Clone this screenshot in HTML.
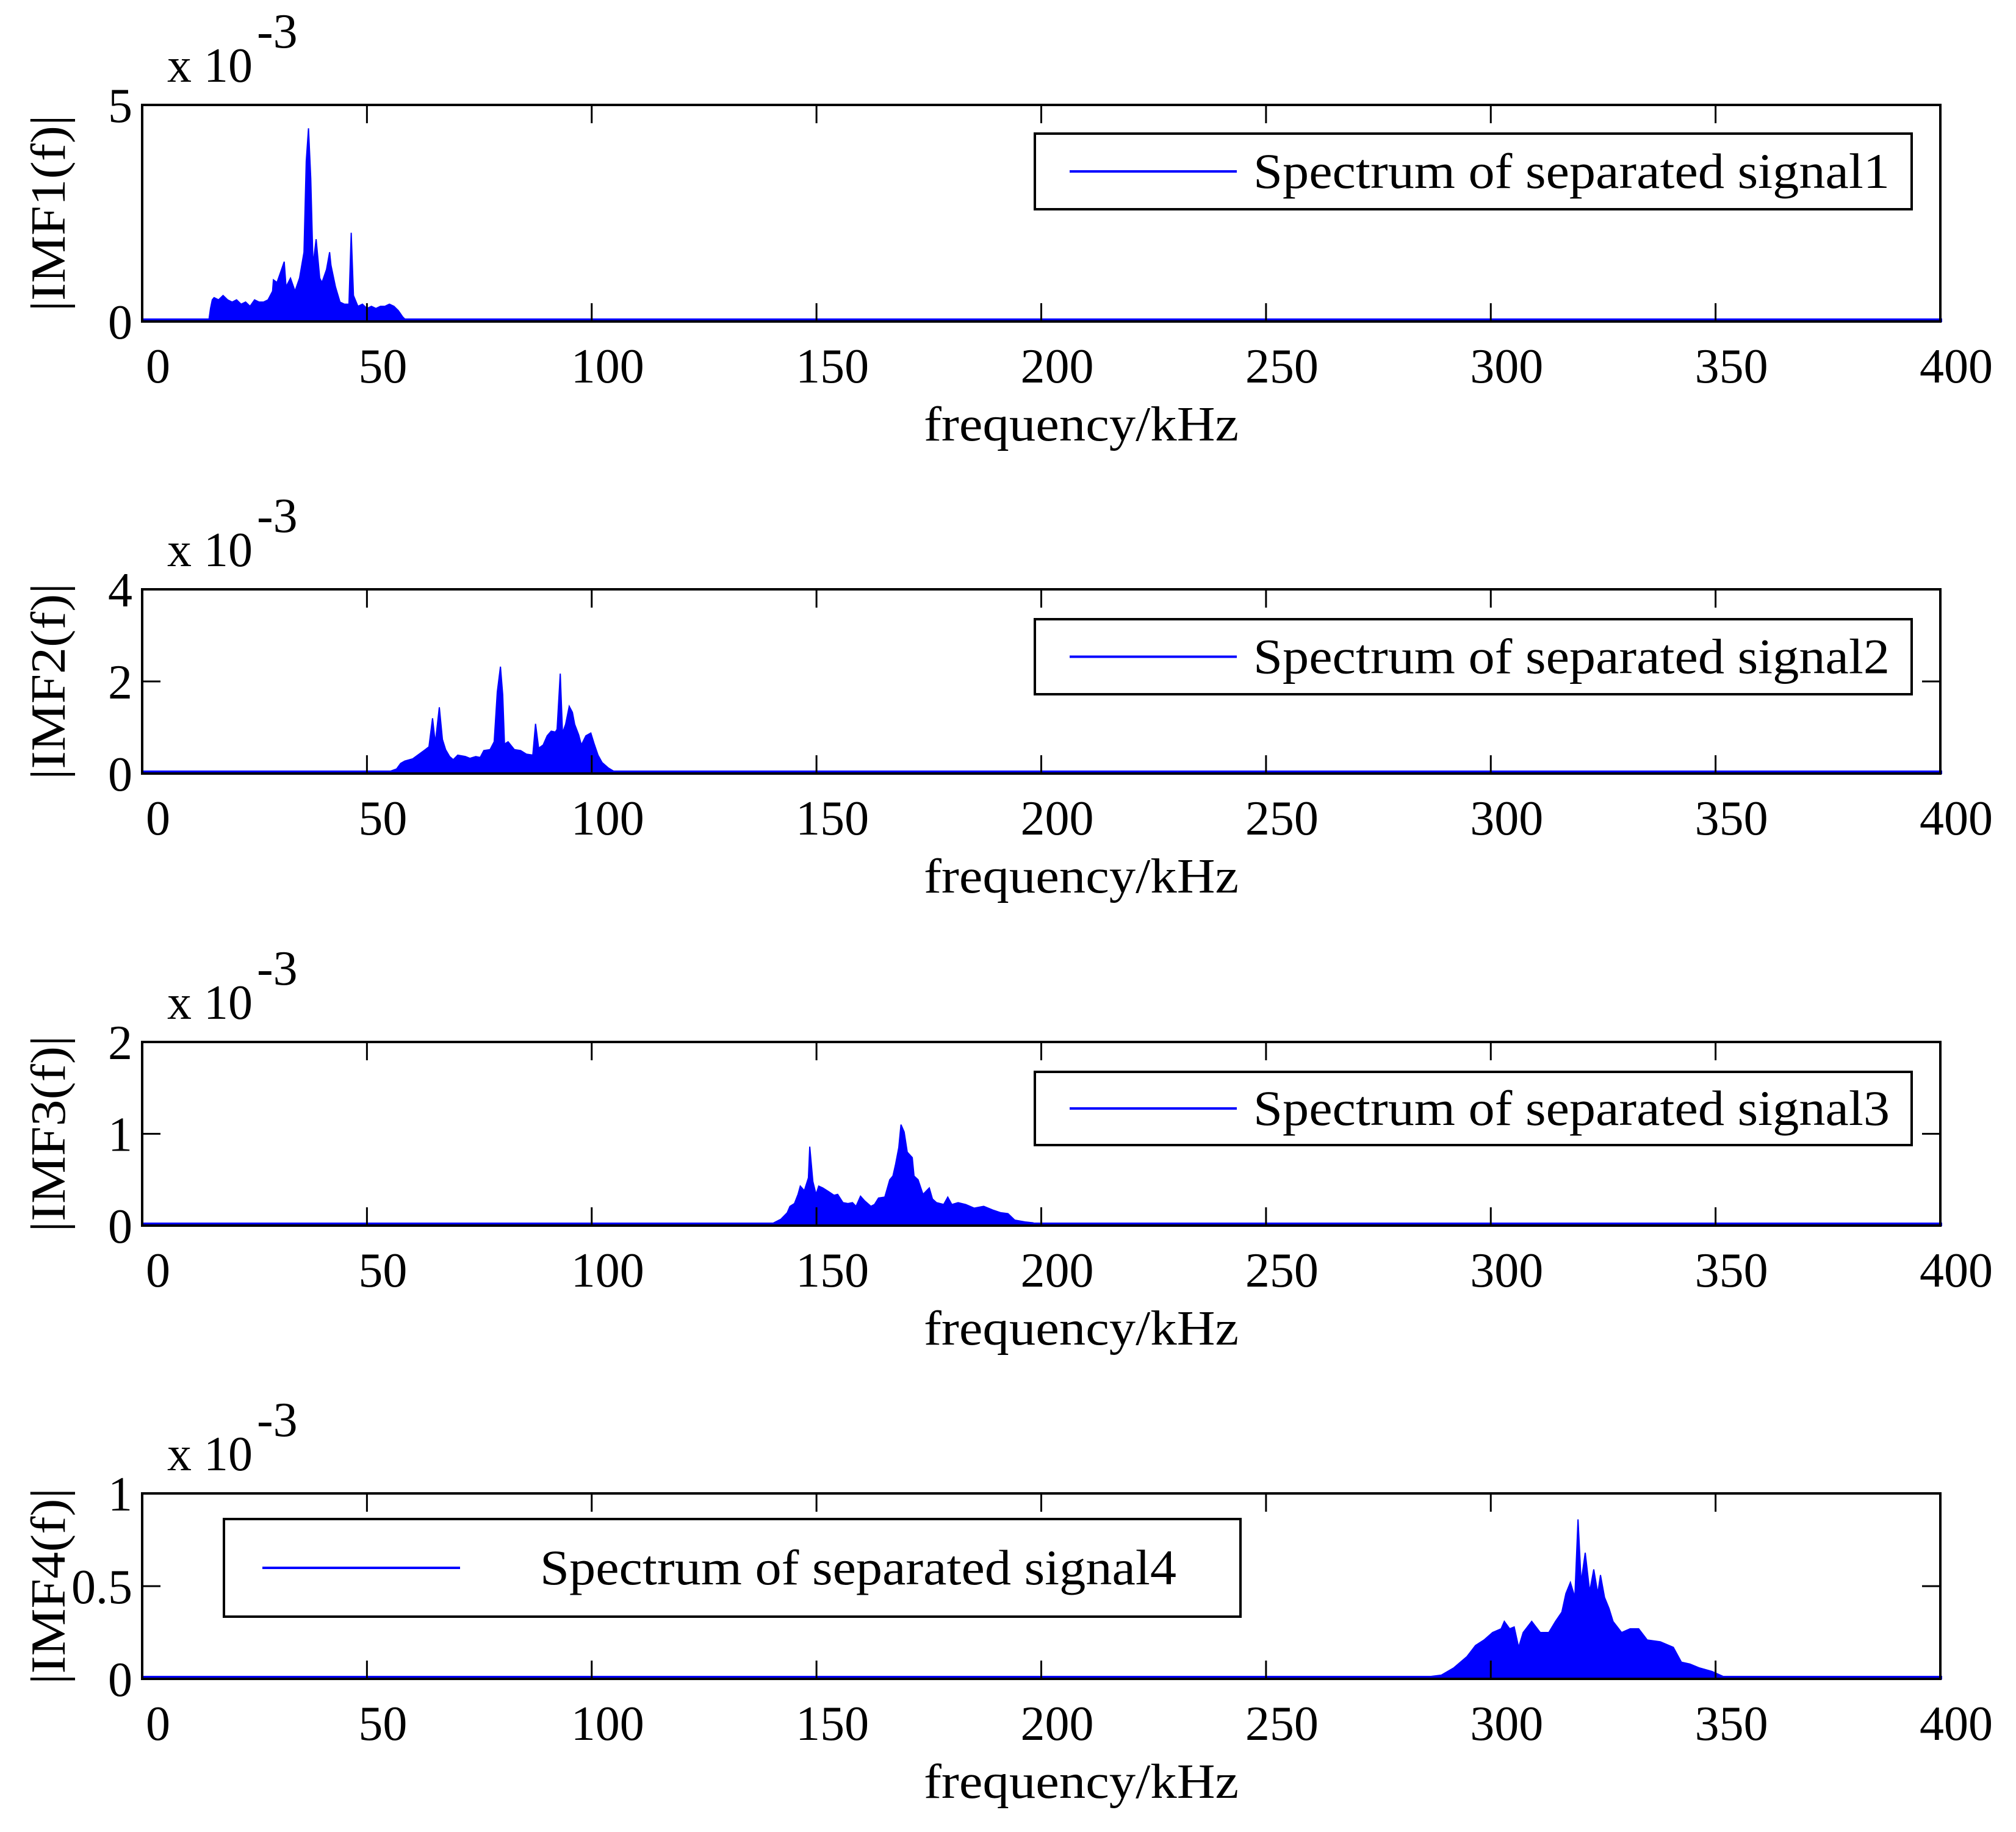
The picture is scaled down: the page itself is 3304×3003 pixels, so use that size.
<!DOCTYPE html>
<html><head><meta charset="utf-8"><style>
html,body{margin:0;padding:0;background:#fff;}
svg{display:block;}
text{font-family:"Liberation Serif",serif;fill:#000;}
</style></head>
<body>
<svg id="fig" width="3304" height="3003" viewBox="0 0 3304 3003" xmlns="http://www.w3.org/2000/svg"></svg>
<script>
const xTicks = [0,50,100,150,200,250,300,350,400];
const xTickLabels = ["0","50","100","150","200","250","300","350","400"];

const freq1 = [14.8,15.2,15.6,16,17,18,19,20,21,22,23,24,25,26,27,28,29,29.2,30,31,31.6,32,33,34,35,36,36.5,37,37.5,38,38.7,39.5,40,41,41.7,42,43,44,45,46,46.5,47,48,49,50,51,52,53,54,55,56,57,58,59];
const vals1 = [0,0.3,0.5,0.55,0.5,0.6,0.5,0.45,0.5,0.4,0.45,0.35,0.5,0.45,0.45,0.5,0.7,0.96,0.9,1.2,1.38,0.8,1.0,0.7,1.0,1.6,3.7,4.46,3.3,1.3,1.9,1.0,0.9,1.2,1.6,1.3,0.8,0.45,0.4,0.4,2.05,0.6,0.35,0.4,0.3,0.35,0.3,0.35,0.35,0.4,0.35,0.25,0.1,0];

const freq2 = [53,55.2,56.6,57.5,58.4,60.2,61.6,63,63.8,64.6,65.2,66.1,66.8,67.5,68.4,69.2,70.2,71.9,72.9,74.2,75.2,76,77.4,78.3,79,79.7,80.2,80.6,81.4,82.8,84.2,85.5,86.9,87.5,88.2,89.2,90.1,91,91.9,92.3,93,93.5,94.2,95,95.7,96.2,97.1,97.7,98.7,99.8,100.5,101.4,102.3,103.7,104.9,105.9];
const vals2 = [0,0.05,0.1,0.22,0.27,0.32,0.42,0.52,0.58,1.2,0.66,1.44,0.74,0.52,0.37,0.3,0.4,0.37,0.33,0.37,0.35,0.5,0.52,0.69,1.77,2.32,1.71,0.64,0.69,0.52,0.5,0.42,0.4,1.08,0.55,0.62,0.82,0.92,0.9,0.96,2.17,0.88,1.07,1.46,1.33,1.07,0.84,0.62,0.82,0.88,0.66,0.4,0.24,0.12,0.05,0];

const freq3 = [139,140.5,142.1,143.5,144.1,145.1,145.9,146.4,147.3,148.2,148.5,149.2,149.9,150.5,151.4,152.7,153.9,154.7,155.9,157,158,158.8,159.8,160.7,162.1,162.9,163.8,165.2,166.3,167,167.6,168.3,168.8,169.5,170.2,171.3,171.7,172.6,173.7,175.1,175.8,176.7,178.3,179.2,180.1,181.5,183.2,185.1,187.2,189.2,191,192.6,194.1,196.4,198.2,198.7];
const vals3 = [0,0.03,0.07,0.14,0.21,0.24,0.34,0.43,0.38,0.52,0.86,0.48,0.34,0.43,0.41,0.37,0.33,0.34,0.25,0.24,0.25,0.21,0.32,0.27,0.21,0.23,0.3,0.31,0.5,0.54,0.67,0.85,1.1,1.02,0.8,0.74,0.54,0.5,0.34,0.41,0.29,0.25,0.23,0.31,0.23,0.25,0.23,0.19,0.21,0.17,0.14,0.13,0.06,0.04,0.03,0];

const freq4 = [284,285.6,289,291.8,294.7,296.6,298.5,300.4,302.3,303,304.2,305.2,306.2,307.2,309.1,311,312.9,314.4,315.8,316.7,317.7,318.7,319.4,320.1,321,322,322.9,323.8,324.4,325.3,326.3,327.2,329.1,331,332.9,334.8,337.7,340.6,342.4,344.3,346.3,349.2,352,354.9];
const vals4 = [0,0.01,0.02,0.06,0.12,0.18,0.21,0.25,0.27,0.31,0.27,0.28,0.17,0.25,0.31,0.25,0.25,0.31,0.36,0.46,0.52,0.44,0.86,0.52,0.68,0.47,0.59,0.46,0.56,0.44,0.38,0.31,0.25,0.27,0.27,0.21,0.2,0.17,0.09,0.08,0.06,0.04,0.01,0];

const yTicks1 = [0,5], yTicks2 = [0,2,4], yTicks3 = [0,1,2], yTicks4 = [0,0.5,1];
const yTickLabels4 = ["0","0.5","1"];

const panels = [
  {id:1, top:172, bottom:527, ymax:5, yt:yTicks1, f:freq1, v:vals1, legend:{x:1696,y:219,w:1437,h:124,lx1:1753,lx2:2027,tx:2054,tw:1043}},
  {id:2, top:966, bottom:1268, ymax:4, yt:yTicks2, f:freq2, v:vals2, legend:{x:1696,y:1015,w:1437,h:123,lx1:1753,lx2:2027,tx:2054,tw:1043}},
  {id:3, top:1708, bottom:2009, ymax:2, yt:yTicks3, f:freq3, v:vals3, legend:{x:1696,y:1757,w:1437,h:120,lx1:1753,lx2:2027,tx:2054,tw:1043}},
  {id:4, top:2448, bottom:2752, ymax:1, yt:yTicks4, f:freq4, v:vals4, legend:{x:367,y:2490,w:1666,h:160,lx1:430,lx2:754,tx:885,tw:1043}}
];
const L = 233, R = 3180;
const NS = "http://www.w3.org/2000/svg";
const svg = document.getElementById('fig');
function mk(tag, attrs, parent){ const e=document.createElementNS(NS,tag); for(const k in attrs) e.setAttribute(k,attrs[k]); (parent||svg).appendChild(e); return e; }
function xScale(f){ return L + (f/400)*(R-L); }

panels.forEach(p=>{
  const g = mk('g',{});
  
  
  const yScale = v => p.bottom - (v/p.ymax)*(p.bottom-p.top);
  let d = 'M'+xScale(p.f[0])+','+yScale(0);
  for(let i=0;i<p.f.length;i++){ d += ' L'+xScale(p.f[i]).toFixed(1)+','+yScale(p.v[i]).toFixed(1); }
  d += ' L'+xScale(p.f[p.f.length-1])+','+yScale(0)+' Z';
  const area = mk('path',{d:d, fill:'#0000ff', stroke:'#0000ff', 'stroke-width':2, 'stroke-linejoin':'miter'}, g);
  
  
  const base = mk('line',{x1:L,x2:R+3,y1:yScale(0)-2,y2:yScale(0)-2,stroke:'#0000ff','stroke-width':6}, g);
  
  
  const box = mk('rect',{x:L,y:p.top,width:R-L,height:p.bottom-p.top,fill:'none',stroke:'#000','stroke-width':4}, g);
  
  
  xTicks.forEach((t,i)=>{
    const x = xScale(t);
    if(i>0 && i<xTicks.length-1){
      mk('line',{x1:x,x2:x,y1:p.bottom,y2:p.bottom-30,stroke:'#000','stroke-width':3}, g);
      mk('line',{x1:x,x2:x,y1:p.top,y2:p.top+30,stroke:'#000','stroke-width':3}, g);
    }
    const tl = mk('text',{x:x+26,y:p.bottom+100,'font-size':80,'text-anchor':'middle'}, g);
    
    
    tl.textContent = xTickLabels[i];
  });
  p.yt.forEach((t,i)=>{
    const y = yScale(t);
    if(i>0 && i<p.yt.length-1){
      mk('line',{x1:L,x2:L+30,y1:y,y2:y,stroke:'#000','stroke-width':3}, g);
      mk('line',{x1:R,x2:R-30,y1:y,y2:y,stroke:'#000','stroke-width':3}, g);
    }
    const yl = mk('text',{x:L-16,y:y+28,'font-size':80,'text-anchor':'end'}, g);
    
    
    yl.textContent = p.id===4 ? yTickLabels4[i] : String(t);
  });
  const ex = mk('text',{x:274,y:p.top-38,'font-size':80}, g);
  
  
  ex.textContent = 'x 10';
  const sup = mk('text',{x:421,y:p.top-94,'font-size':80}, g);
  
  
  sup.textContent = '-3';
  const cy = (p.top+p.bottom)/2;
  const ylab = mk('text',{x:0,y:0,'font-size':80,'text-anchor':'middle',transform:'translate(106,'+cy+') rotate(-90)',textLength:322,lengthAdjust:'spacingAndGlyphs'}, g);
  
  
  ylab.textContent = '|IMF'+p.id+'(f)|';
  const xlab = mk('text',{x:1772,y:p.bottom+195,'font-size':80,'text-anchor':'middle',textLength:516,lengthAdjust:'spacingAndGlyphs'}, g);
  
  
  xlab.textContent = 'frequency/kHz';
  const lg = p.legend;
  const lgG = mk('g',{}, g);
  
  
  mk('rect',{x:lg.x,y:lg.y,width:lg.w,height:lg.h,fill:'#fff',stroke:'#000','stroke-width':4}, lgG);
  const ly = lg.y + lg.h/2;
  const ll = mk('line',{x1:lg.lx1,x2:lg.lx2,y1:ly,y2:ly,stroke:'#0000ff','stroke-width':4}, lgG);
  
  
  const lt = mk('text',{x:lg.tx,y:ly+27,'font-size':82,textLength:lg.tw,lengthAdjust:'spacingAndGlyphs'}, lgG);
  
  
  lt.textContent = 'Spectrum of separated signal'+p.id;
});
</script>
</body></html>
